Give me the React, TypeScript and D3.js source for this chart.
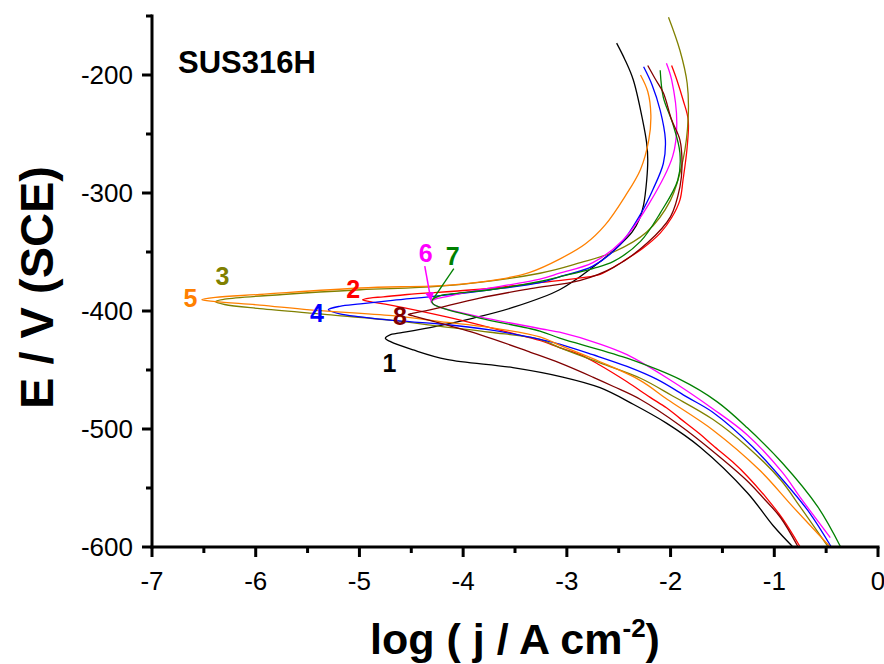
import React from "react";
import * as d3 from "d3";

type Pt = [number, number];

// log j (A cm^-2), E (mV vs SCE), from cathodic end (-600 mV) to anodic end
const curve1: Pt[] = [
  [-0.82, -600], [-1.01, -582], [-1.26, -554], [-1.72, -515], [-2.04, -495], [-2.36, -479],
  [-2.68, -465], [-3.04, -456], [-3.52, -448], [-4.16, -441], [-4.48, -433], [-4.7, -426],
  [-4.75, -423], [-4.7, -420], [-4.64, -419], [-4.32, -414], [-3.9, -406], [-3.52, -397],
  [-3.07, -382], [-2.75, -363], [-2.49, -344], [-2.37, -333], [-2.3, -322], [-2.26, -310],
  [-2.23, -289], [-2.22, -272], [-2.23, -258], [-2.27, -238], [-2.36, -204], [-2.44, -187], [-2.52, -173],
];
const curve2: Pt[] = [
  [-0.75, -600], [-0.92, -576], [-1.07, -559], [-1.26, -540], [-1.4, -528], [-1.59, -514],
  [-1.72, -504], [-1.91, -491], [-2.04, -482], [-2.2, -473], [-2.42, -460], [-2.68, -446],
  [-2.87, -437], [-3.07, -431], [-3.26, -425], [-3.52, -419], [-3.74, -414], [-4.16, -405],
  [-4.7, -395], [-4.9, -392], [-4.97, -390.5], [-4.9, -389], [-4.77, -388], [-4.54, -386],
  [-3.9, -382], [-3.26, -376], [-2.87, -372], [-2.68, -369], [-2.46, -358], [-2.27, -347],
  [-2.1, -334], [-1.99, -321], [-1.91, -306], [-1.88, -289], [-1.84, -261], [-1.83, -238],
  [-1.88, -221], [-1.94, -204], [-1.99, -192],
];
const curve3: Pt[] = [
  [-0.48, -600], [-0.75, -566], [-0.94, -543], [-1.26, -515], [-1.59, -492], [-1.98, -472],
  [-2.29, -457], [-2.68, -444], [-3.07, -431], [-3.26, -424], [-3.74, -418], [-4.22, -413],
  [-4.68, -408], [-5.31, -403], [-5.96, -398], [-6.3, -394.5], [-6.39, -392], [-6.3, -390],
  [-5.74, -386], [-4.99, -382], [-4.22, -379], [-3.26, -368], [-2.87, -359], [-2.55, -350],
  [-2.23, -333], [-2.0, -306], [-1.88, -272], [-1.83, -236], [-1.84, -207], [-1.91, -179], [-2.02, -151],
];
const curve4: Pt[] = [
  [-0.45, -600], [-0.66, -571], [-0.92, -543], [-1.21, -515], [-1.59, -486], [-1.84, -473],
  [-2.13, -458], [-2.42, -447], [-2.75, -437], [-3.07, -428], [-3.26, -424], [-3.74, -416],
  [-4.22, -411], [-4.68, -408], [-4.99, -405], [-5.19, -402.5], [-5.3, -399], [-5.19, -396],
  [-4.99, -394], [-4.68, -391], [-4.22, -387], [-3.74, -382], [-3.26, -376], [-3.07, -371],
  [-2.75, -362], [-2.49, -344], [-2.29, -318], [-2.17, -297], [-2.07, -275], [-2.05, -255],
  [-2.1, -230], [-2.18, -208], [-2.26, -193],
];
const curve5: Pt[] = [
  [-0.46, -600], [-0.82, -566], [-1.14, -535], [-1.59, -501], [-2.03, -475], [-2.29, -459],
  [-2.68, -443], [-3.07, -429], [-3.26, -422], [-3.74, -414], [-4.22, -409], [-4.68, -404],
  [-5.48, -399], [-5.96, -395], [-6.39, -392], [-6.52, -390.5], [-6.39, -388.5], [-5.96, -386],
  [-4.99, -380.5], [-4.13, -378], [-3.64, -373], [-3.35, -367], [-3.07, -356], [-2.82, -343],
  [-2.63, -327], [-2.44, -303], [-2.29, -280], [-2.21, -255], [-2.19, -234], [-2.22, -214], [-2.29, -200],
];
const curve6: Pt[] = [
  [-0.46, -592], [-0.75, -558], [-0.92, -537], [-1.26, -505], [-1.59, -483],
  [-2.03, -457], [-2.42, -437], [-2.68, -428], [-3.07, -418], [-3.19, -416], [-3.84, -405],
  [-4.22, -397], [-4.29, -394], [-4.31, -392], [-4.27, -390], [-4.17, -388], [-3.9, -383],
  [-3.26, -373], [-3.07, -368], [-2.75, -359], [-2.46, -340], [-2.2, -308], [-1.98, -269],
  [-1.94, -241], [-1.99, -204], [-2.04, -190],
];
const curve7: Pt[] = [
  [-0.36, -600], [-0.58, -566], [-0.92, -529], [-1.26, -499], [-1.55, -477], [-1.91, -458],
  [-2.42, -440], [-2.68, -433], [-3.07, -423], [-3.26, -417], [-3.84, -406], [-4.22, -397],
  [-4.29, -394], [-4.3, -391], [-4.22, -387], [-4.06, -385], [-3.74, -382], [-3.26, -375],
  [-3.07, -371], [-2.75, -364], [-2.55, -358], [-2.29, -341], [-2.1, -317], [-1.93, -289],
  [-1.91, -266], [-1.98, -241], [-2.07, -219], [-2.1, -196],
];
const curve8: Pt[] = [
  [-0.77, -600], [-0.94, -575], [-1.09, -560], [-1.26, -544], [-1.59, -519], [-1.91, -497],
  [-2.29, -475], [-2.55, -464], [-2.75, -456], [-3.07, -444], [-3.35, -435], [-3.84, -420],
  [-4.32, -408], [-4.49, -404], [-4.53, -403], [-4.49, -402], [-4.32, -399], [-3.84, -389],
  [-3.35, -381], [-2.87, -374], [-2.55, -363], [-2.22, -342], [-2.0, -320], [-1.91, -295],
  [-1.89, -278], [-1.91, -255], [-1.99, -238], [-2.07, -215], [-2.15, -203], [-2.22, -192],
];

const seriesNames = ["1", "2", "3", "4", "5", "6", "7", "8"];
const seriesData: Pt[][] = [curve1, curve2, curve3, curve4, curve5, curve6, curve7, curve8];
const seriesColors = ["#000000", "#ff0000", "#808000", "#0000ff", "#ff8000", "#ff00ff", "#008000", "#800000"];
// label anchor (log j, E)
const labelPos: Pt[] = [
  [-4.71, -444], [-5.06, -381], [-6.32, -370], [-5.41, -402],
  [-6.63, -389], [-4.36, -351], [-4.1, -353], [-4.61, -404],
];
// pointer lines for labels 6 and 7: [from, to]
const pointer6: Pt[] = [[-4.37, -362], [-4.31, -391]];
const pointer7: Pt[] = [[-4.09, -364], [-4.29, -390]];

const xTicks = [-7, -6, -5, -4, -3, -2, -1, 0];
const yTicks = [-600, -500, -400, -300, -200];
const xMinor = [-6.5, -5.5, -4.5, -3.5, -2.5, -1.5, -0.5];
const yMinor = [-550, -450, -350, -250, -150];

const W = 884;
const H = 664;
const FONT = "'Liberation Sans', Arial, Helvetica, sans-serif";

export default function App() {
  const x = d3.scaleLinear().domain([-7, 0]).range([152, 878]);
  const y = d3.scaleLinear().domain([-600, -150]).range([547, 16]);
  const line = d3
    .line<Pt>()
    .x((d) => x(d[0]))
    .y((d) => y(d[1]))
    .curve(d3.curveCatmullRom.alpha(0.5));
  const straight = d3.line<Pt>().x((d) => x(d[0])).y((d) => y(d[1]));

  return (
    <svg width={W} height={H} style={{ position: "absolute", left: 0, top: 0, background: "#fff" }} fontFamily={FONT}>
      <defs>
        <marker id="arr6" viewBox="0 0 10 10" refX="9" refY="5" markerWidth="6" markerHeight="6" orient="auto">
          <path d="M0,0 L10,5 L0,10 z" fill="#ff00ff" />
        </marker>
      </defs>
      {seriesData.map((d, i) => (
        <path key={i} d={line(d) || ""} fill="none" stroke={seriesColors[i]} strokeWidth={1.3} />
      ))}
      <path d={straight(pointer6) || ""} stroke="#ff00ff" strokeWidth={1.5} fill="none" markerEnd="url(#arr6)" />
      <path d={straight(pointer7) || ""} stroke="#008000" strokeWidth={1.3} fill="none" />
      {labelPos.map((p, i) => (
        <text key={i} x={x(p[0])} y={y(p[1])} fill={seriesColors[i]} fontSize={25} fontWeight="bold"
          textAnchor="middle" dominantBaseline="central">{seriesNames[i]}</text>
      ))}
      {/* axes */}
      <line x1={x(-7)} x2={x(0)} y1={y(-600)} y2={y(-600)} stroke="#000" strokeWidth={3} strokeLinecap="square" />
      <line x1={x(-7)} x2={x(-7)} y1={y(-600)} y2={y(-150)} stroke="#000" strokeWidth={3} strokeLinecap="square" />
      {xTicks.map((t) => (
        <g key={"xt" + t}>
          <line x1={x(t)} x2={x(t)} y1={y(-600)} y2={y(-600) + 10} stroke="#000" strokeWidth={3} />
          <text x={x(t)} y={y(-600) + 43} fontSize={26} textAnchor="middle">{t}</text>
        </g>
      ))}
      {xMinor.map((t) => (
        <line key={"xm" + t} x1={x(t)} x2={x(t)} y1={y(-600)} y2={y(-600) + 6} stroke="#000" strokeWidth={3} />
      ))}
      {yTicks.map((t) => (
        <g key={"yt" + t}>
          <line x1={x(-7) - 10} x2={x(-7)} y1={y(t)} y2={y(t)} stroke="#000" strokeWidth={3} />
          <text x={x(-7) - 19} y={y(t)} fontSize={26} textAnchor="end" dominantBaseline="central">{t}</text>
        </g>
      ))}
      {yMinor.map((t) => (
        <line key={"ym" + t} x1={x(-7) - 6} x2={x(-7)} y1={y(t)} y2={y(t)} stroke="#000" strokeWidth={3} />
      ))}
      <text x={178} y={73} fontSize={31} fontWeight="bold">SUS316H</text>
      <text transform={`translate(53,${(y(-600) + y(-150)) / 2 + 6}) rotate(-90)`} fontSize={47} fontWeight="bold" textAnchor="middle">
        E / V (SCE)
      </text>
      <text x={515} y={654} fontSize={43} fontWeight="bold" textAnchor="middle">
        log ( j / A cm<tspan dy={-17} fontSize={26}>-2</tspan><tspan dy={17}>)</tspan>
      </text>
    </svg>
  );
}
